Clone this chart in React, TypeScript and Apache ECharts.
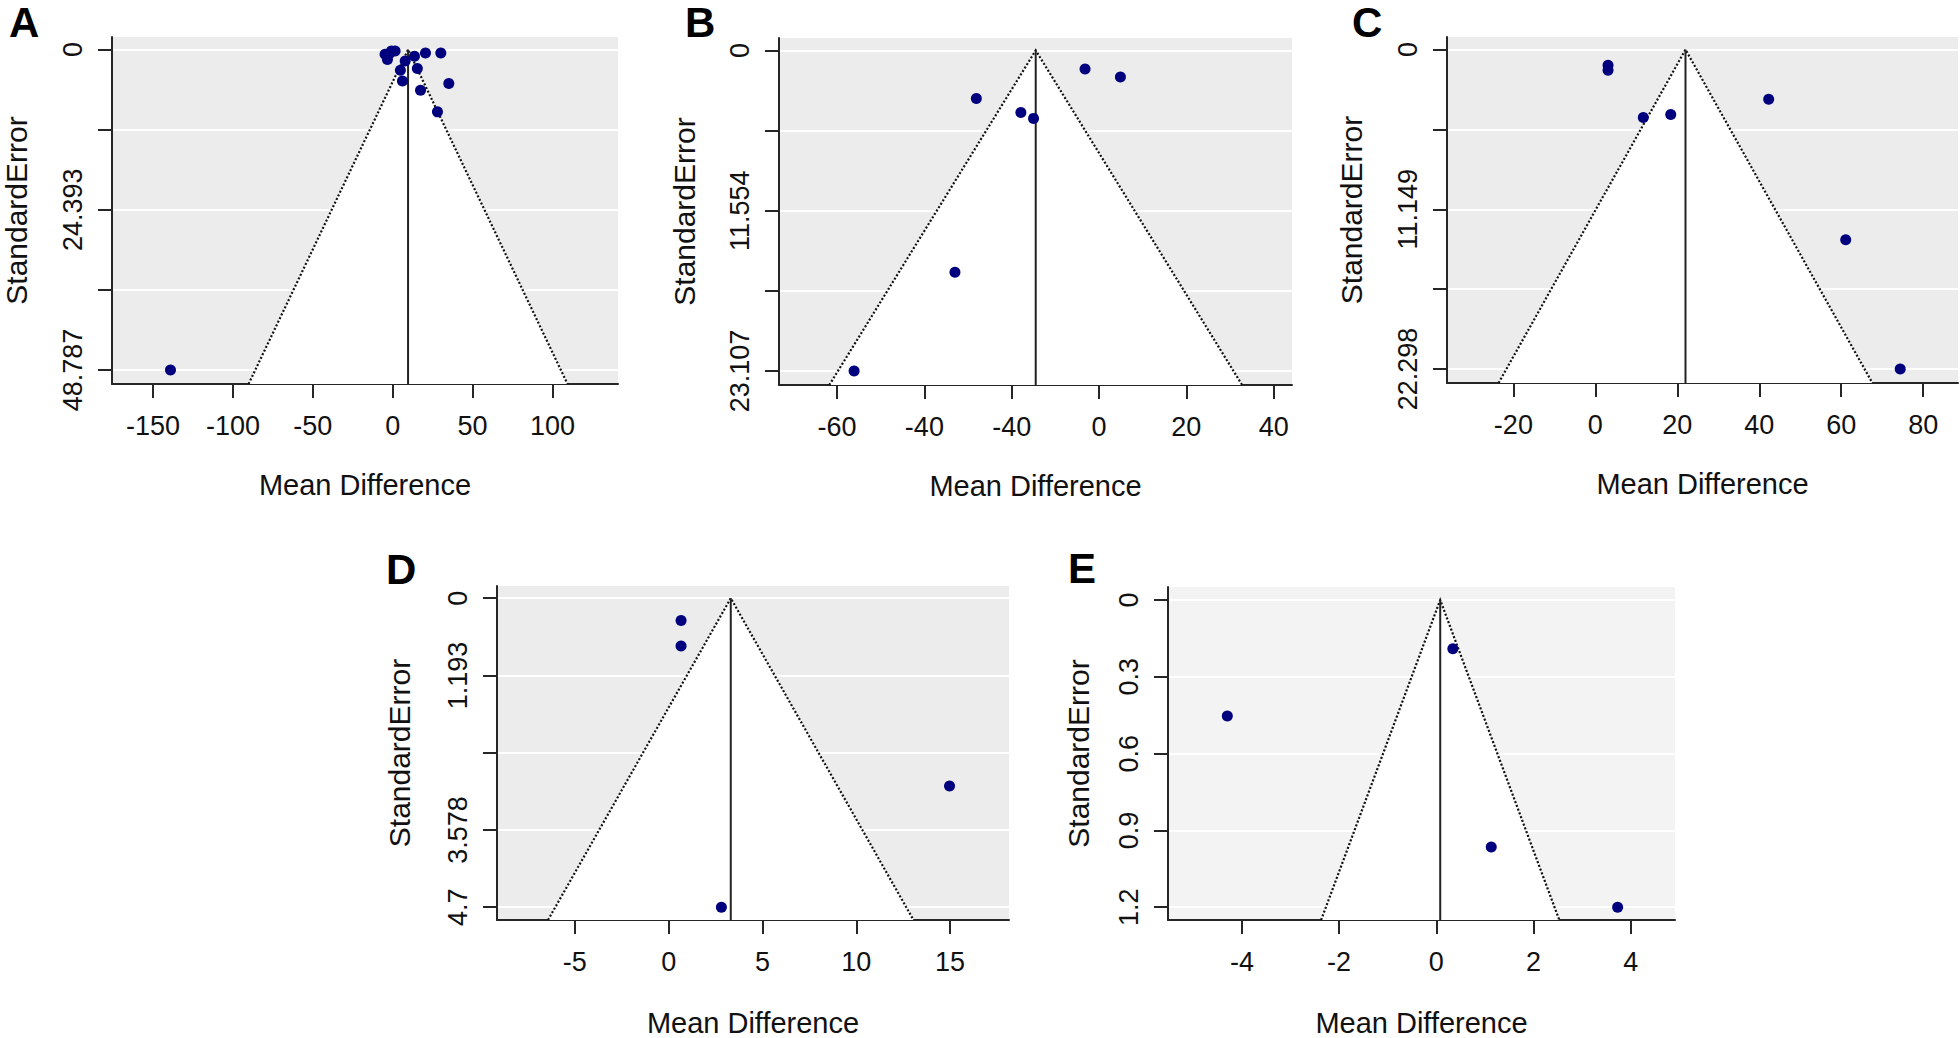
import React, { useEffect, useRef } from 'react';
import * as echarts from 'echarts';

// ---------- data ----------
const panelLetters = ['A', 'B', 'C', 'D', 'E'];

// Panel A
const mdA = [-4.8, -3.3, -2.0, -0.8, 1.5, 7.8, 13.6, 20.5, 30.1, 4.8, 15.4, 6.1, 35.1, 17.4, 28.0, -139.1];
const seA = [0.71, 1.52, 0.6, 0.2, 0.2, 1.72, 1.01, 0.51, 0.51, 3.14, 2.89, 4.77, 5.17, 6.19, 9.48, 48.787];
// Panel B
const mdB = [-3.2, 4.9, -28.1, -17.9, -15.0, -33.0, -56.1];
const seB = [1.34, 1.92, 3.46, 4.47, 4.9, 15.99, 23.107];
// Panel C
const mdC = [3.1, 3.1, 11.7, 18.4, 42.3, 61.1, 74.4];
const seC = [1.09, 1.44, 4.74, 4.53, 3.46, 13.27, 22.298];
// Panel D
const mdD = [0.66, 0.66, 14.97, 2.81];
const seD = [0.346, 0.738, 2.9, 4.771];
// Panel E
const mdE = [0.34, -4.3, 1.13, 3.73];
const seE = [0.19, 0.453, 0.965, 1.2];

// pooled mean difference (funnel centre)
const pooledMD = [9.6, -14.5, 22.0, 3.31, 0.08];

// axis ranges
const xRanges = [[-175.7, 141], [-73.3, 44.2], [-36.2, 88.5], [-9.15, 18.14], [-5.52, 4.91]];
const yRanges = [[-1.92, 50.92], [-0.895, 24.12], [-0.878, 23.27], [-0.188, 4.969], [-0.051, 1.25]];

// tick values and labels
const xTicksA = [-150, -100, -50, 0, 50, 100];
const xLabelsA = ['-150', '-100', '-50', '0', '50', '100'];
const xTicksB = [-60, -40, -20, 0, 20, 40];
const xLabelsB = ['-60', '-40', '-40', '0', '20', '40'];
const xTicksC = [-20, 0, 20, 40, 60, 80];
const xLabelsC = ['-20', '0', '20', '40', '60', '80'];
const xTicksD = [-5, 0, 5, 10, 15];
const xLabelsD = ['-5', '0', '5', '10', '15'];
const xTicksE = [-4, -2, 0, 2, 4];
const xLabelsE = ['-4', '-2', '0', '2', '4'];

const yTicksA = [0, 12.19675, 24.3935, 36.59025, 48.787];
const yLabelsA = ['0', '', '24.393', '', '48.787'];
const yTicksB = [0, 5.77675, 11.5535, 17.33025, 23.107];
const yLabelsB = ['0', '', '11.554', '', '23.107'];
const yTicksC = [0, 5.5745, 11.149, 16.7235, 22.298];
const yLabelsC = ['0', '', '11.149', '', '22.298'];
const yTicksD = [0, 1.19275, 2.3855, 3.57825, 4.771];
const yLabelsD = ['0', '1.193', '', '3.578', '4.7'];
const yTicksE = [0, 0.3, 0.6, 0.9, 1.2];
const yLabelsE = ['0', '0.3', '0.6', '0.9', '1.2'];

const xLabelText = 'Mean Difference';
const yLabelText = 'StandardError';

// ---------- layout & style ----------
const grids = [
  { left: 107, top: 37, width: 511, height: 347 },
  { left: 779, top: 38, width: 513, height: 347 },
  { left: 1447, top: 37, width: 511, height: 346 },
  { left: 497, top: 586, width: 512, height: 338 },
  { left: 1168, top: 587, width: 507, height: 337 },
];
const letterPos = [
  { left: 9, top: 1 },
  { left: 685, top: 1 },
  { left: 1352, top: 1 },
  { left: 386, top: 548 },
  { left: 1068, top: 547 },
];
const bgColors = ['#ECECEC', '#ECECEC', '#ECECEC', '#ECECEC', '#F3F3F3'];
const xNameGaps = [86, 86, 86, 88, 88];
const yNameGaps = [81, 80, 81, 83, 75];
const FONT = '"Liberation Sans", Arial, Helvetica, sans-serif';
const AXIS_COLOR = '#262626';
const POINT_COLOR = '#00007F';

const mdList = [mdA, mdB, mdC, mdD, mdE];
const seList = [seA, seB, seC, seD, seE];
const xTicksList = [xTicksA, xTicksB, xTicksC, xTicksD, xTicksE];
const xLabelsList = [xLabelsA, xLabelsB, xLabelsC, xLabelsD, xLabelsE];
const yTicksList = [yTicksA, yTicksB, yTicksC, yTicksD, yTicksE];
const yLabelsList = [yLabelsA, yLabelsB, yLabelsC, yLabelsD, yLabelsE];

function labelFor(ticks: number[], labels: string[]) {
  const span = Math.abs(ticks[ticks.length - 1] - ticks[0]) || 1;
  return (v: number) => {
    const k = ticks.findIndex((t) => Math.abs(t - v) < span * 1e-4);
    return k >= 0 ? labels[k] : '';
  };
}

function buildOption() {
  const grid: any[] = [];
  const xAxis: any[] = [];
  const yAxis: any[] = [];
  const series: any[] = [];
  const title: any[] = [];

  for (let i = 0; i < 5; i++) {
    grid.push({
      ...grids[i],
      show: true,
      backgroundColor: bgColors[i],
      borderWidth: 0,
      containLabel: false,
    });
    xAxis.push({
      type: 'value',
      gridIndex: i,
      min: xRanges[i][0],
      max: xRanges[i][1],
      position: 'bottom',
      axisLine: { show: true, onZero: false, lineStyle: { color: AXIS_COLOR, width: 2 } },
      axisTick: { show: true, customValues: xTicksList[i], length: 14, lineStyle: { color: AXIS_COLOR, width: 2 } },
      axisLabel: {
        show: true,
        customValues: xTicksList[i],
        formatter: labelFor(xTicksList[i], xLabelsList[i]),
        fontSize: 27,
        fontFamily: FONT,
        color: '#111',
        margin: 28,
      },
      splitLine: { show: false },
      name: xLabelText,
      nameLocation: 'middle',
      nameGap: xNameGaps[i],
      nameTextStyle: { fontSize: 29, fontFamily: FONT, color: '#111' },
    });
    yAxis.push({
      type: 'value',
      gridIndex: i,
      inverse: true,
      min: yRanges[i][0],
      max: yRanges[i][1],
      position: 'left',
      axisLine: { show: true, onZero: false, lineStyle: { color: AXIS_COLOR, width: 2 } },
      axisTick: { show: true, customValues: yTicksList[i], length: 14, lineStyle: { color: AXIS_COLOR, width: 2 } },
      axisLabel: {
        show: true,
        customValues: yTicksList[i],
        formatter: labelFor(yTicksList[i], yLabelsList[i]),
        rotate: 90,
        fontSize: 27,
        fontFamily: FONT,
        color: '#111',
        margin: 26,
      },
      splitLine: { show: true, lineStyle: { color: '#FFFFFF', width: 2 } },
      name: yLabelText,
      nameLocation: 'middle',
      nameGap: yNameGaps[i],
      nameTextStyle: { fontSize: 30, fontFamily: FONT, color: '#111' },
    });
    series.push({
      type: 'custom',
      xAxisIndex: i,
      yAxisIndex: i,
      silent: true,
      clip: false,
      z: 2,
      data: [[pooledMD[i], yRanges[i][1]]],
      renderItem: (params: any, api: any) => {
        const m = api.value(0);
        const s = api.value(1);
        const apex = api.coord([m, 0]);
        const bl = api.coord([m - 1.96 * s, s]);
        const br = api.coord([m + 1.96 * s, s]);
        return {
          type: 'group',
          children: [
            { type: 'polygon', shape: { points: [apex, bl, br] }, style: { fill: '#FFFFFF' } },
            {
              type: 'polyline',
              shape: { points: [bl, apex, br] },
              style: { stroke: '#111', lineWidth: 2.2, lineDash: [2, 2], fill: null },
            },
            {
              type: 'line',
              shape: { x1: apex[0], y1: apex[1], x2: apex[0], y2: bl[1] },
              style: { stroke: '#222', lineWidth: 2 },
            },
          ],
        };
      },
    });
    series.push({
      type: 'scatter',
      xAxisIndex: i,
      yAxisIndex: i,
      z: 3,
      symbol: 'circle',
      symbolSize: 11,
      itemStyle: { color: POINT_COLOR, opacity: 1 },
      data: mdList[i].map((v, j) => [v, seList[i][j]]),
    });
    title.push({
      text: panelLetters[i],
      left: letterPos[i].left,
      top: letterPos[i].top,
      padding: 0,
      textStyle: { fontSize: 42, fontWeight: 'bold', fontFamily: FONT, color: '#000' },
    });
  }

  return { animation: false, backgroundColor: '#FFFFFF', title, grid, xAxis, yAxis, series };
}

export default function App() {
  const ref = useRef<HTMLDivElement>(null);
  useEffect(() => {
    if (!ref.current) return;
    const chart = echarts.init(ref.current, undefined, { renderer: 'svg' });
    chart.setOption(buildOption() as any);
    return () => chart.dispose();
  }, []);
  return (
    <div
      ref={ref}
      style={{ position: 'fixed', left: 0, top: 0, width: 1960, height: 1038, background: '#fff' }}
    />
  );
}
